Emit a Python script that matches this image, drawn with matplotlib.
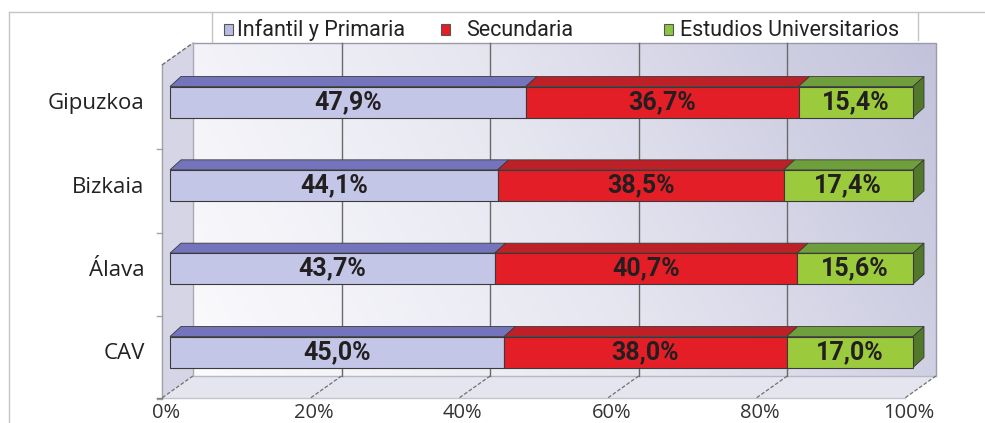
import numpy as np
import matplotlib
matplotlib.use('Agg')
import matplotlib.pyplot as plt
from matplotlib.patches import Polygon, Rectangle
from matplotlib.lines import Line2D
from matplotlib.colors import LinearSegmentedColormap
from matplotlib import font_manager

# datos
categorias = ['CAV', 'Álava', 'Bizkaia', 'Gipuzkoa']
infantil = [45.0, 43.7, 44.1, 47.9]
secundaria = [38.0, 40.7, 38.5, 36.7]
universitarios = [17.0, 15.6, 17.4, 15.4]
series = ['Infantil y Primaria', 'Secundaria', 'Estudios Universitarios']
ticks = [0, 20, 40, 60, 80, 100]

front_cols = ['#c3c6e6', '#e41e26', '#9bcb3c']
top_cols = ['#7474bc', '#be2027', '#6f9e3c']
side_col = '#52782c'
edge = '#3a3a3a'

names = {f.name for f in font_manager.fontManager.ttflist}
narrow = 'Roboto' if 'Roboto' in names else 'DejaVu Sans'
regular = 'Open Sans' if 'Open Sans' in names else 'DejaVu Sans'

W, H = 985, 423
fig = plt.figure(figsize=(W / 100, H / 100), dpi=100)
ax = fig.add_axes([0, 0, 1, 1])
ax.axis('off')

# escala: 0% -> px 170, 100% -> px 913 ; categorias cada 83.3 px
ppx, x0 = 7.43, 170
ppy, y0 = 83.33, 352

# profundidad oblicua del "cubo"
DX, DY = 31 / ppx, 22 / ppy
f0 = 0.26
fx, fy = -f0 * DX, -f0 * DY
bx, by = (1 - f0) * DX, (1 - f0) * DY
y_floor, y_top = -0.483, 3.513

# pared del fondo con degradado
gx, gy = np.meshgrid(np.linspace(0, 1, 256), np.linspace(0, 1, 64))
grad = 0.8 * gx + 0.2 * gy
cmap = LinearSegmentedColormap.from_list('wall', ['#fbfbfd', '#e6e6f1', '#c2c2db'])
ax.imshow(grad, cmap=cmap, extent=[bx, 100 + bx, y_floor + by, y_top + by],
          aspect='auto', origin='lower', zorder=0)

# pared izquierda y suelo
ax.add_patch(Polygon([(fx, y_floor + fy), (bx, y_floor + by), (bx, y_top + by), (fx, y_top + fy)],
                     closed=True, facecolor='#d5d5e6', edgecolor='none', zorder=0.5))
ax.add_patch(Polygon([(fx, y_floor + fy), (100 + fx, y_floor + fy), (100 + bx, y_floor + by), (bx, y_floor + by)],
                     closed=True, facecolor='#e5e5f0', edgecolor='none', zorder=0.5))

# bordes del cubo
ax.plot([bx, 100 + bx, 100 + bx], [y_top + by, y_top + by, y_floor + by], color='#9a9aa8', lw=1, zorder=1)
ax.plot([bx, bx], [y_floor + by, y_top + by], color='#a8a8b4', lw=1, zorder=1)
ax.plot([bx, 100 + bx], [y_floor + by, y_floor + by], color='#b8b8c4', lw=1, zorder=1)
ax.plot([fx, fx], [y_floor + fy, y_top + fy], color='#a0a0a8', lw=1, zorder=1)
ax.plot([fx, bx], [y_top + fy, y_top + by], color='#707070', lw=1, ls=(0, (3, 1.5)), zorder=1)
ax.plot([fx, 100 + fx], [y_floor + fy, y_floor + fy], color='#c4c4cc', lw=1, zorder=1)

# rejilla
for v in ticks[1:-1]:
    ax.plot([v + bx, v + bx], [y_floor + by, y_top + by], color='#6a6a6a', lw=1, zorder=1)
for v in ticks:
    ax.plot([v + bx, v + fx], [y_floor + by, y_floor + fy], color='#707070', lw=0.9,
            ls=(0, (3, 1.5)), zorder=1)
for b in [-0.5, 0.5, 1.5, 2.5]:
    ax.plot([fx - 0.6, fx], [b + fy, b + fy], color='#a0a0a8', lw=1, zorder=1)
ax.plot([fx - 0.6, fx], [y_floor + fy, y_floor + fy], color='#808080', lw=1, zorder=1)

# barras apiladas con caras superior y lateral
ypos = np.arange(len(categorias))
h = 31 / ppy
ddx, ddy = 11 / ppx, 10 / ppy
left = np.zeros(len(categorias))
for vals, fc, tc in zip([infantil, secundaria, universitarios], front_cols, top_cols):
    vals = np.array(vals)
    ax.barh(ypos, vals, left=left, height=h, color=fc, edgecolor=edge, linewidth=0.8, zorder=3)
    for i in range(len(categorias)):
        l, r, t = left[i], left[i] + vals[i], ypos[i] + h / 2
        ax.add_patch(Polygon([(l, t), (r, t), (r + ddx, t + ddy), (l + ddx, t + ddy)], closed=True,
                             facecolor=tc, edgecolor=edge, linewidth=0.6, zorder=2.5))
        ax.text(l + vals[i] / 2, ypos[i], f'{vals[i]:.1f}%'.replace('.', ','), ha='center', va='center',
                fontsize=18, fontweight='bold', family=narrow, color='#231f20', zorder=4)
    left += vals
for i in range(len(categorias)):
    r, b, t = left[i], ypos[i] - h / 2, ypos[i] + h / 2
    ax.add_patch(Polygon([(r, b), (r, t), (r + ddx, t + ddy), (r + ddx, b + ddy)], closed=True,
                         facecolor=side_col, edgecolor=edge, linewidth=0.6, zorder=2.5))

# etiquetas de ejes
for i, c in enumerate(categorias):
    ax.text(-3.4, ypos[i] - 0.02, c, ha='right', va='center', fontsize=16, family=regular, color='#222222')
for v in ticks:
    ax.text(v + fx + 0.5, (y0 - 413) / ppy, f'{v}%', ha='center', va='center', fontsize=14.5,
            family=regular, color='#333333')

ax.set_xlim(-x0 / ppx, (W - x0) / ppx)
ax.set_ylim((y0 - H) / ppy, y0 / ppy)

# marco y leyenda (coordenadas de figura en pixeles)
def fpx(px, py):
    return px / W, 1 - py / H

for (a, b) in [((9, 12), (985, 12)), ((9, 12), (9, 423)), ((212, 12), (212, 42)), ((918, 12), (918, 40))]:
    (xa, ya), (xb, yb) = fpx(*a), fpx(*b)
    fig.add_artist(Line2D([xa, xb], [ya, yb], color='#c4c4c4', lw=1, transform=fig.transFigure))

leg_mk = [228, 445, 668]
leg_tx = [237, 466, 680]
mk_cols = ['#b8bce2', '#e41e26', '#8cc63f']
for name, mx, tx, mc in zip(series, leg_mk, leg_tx, mk_cols):
    x, y = fpx(mx - 4, 35)
    fig.add_artist(Rectangle((x, y), 9 / W, 11 / H, facecolor=mc, edgecolor='#555555', lw=0.8,
                             transform=fig.transFigure))
    x, y = fpx(tx, 30)
    fig.text(x, y, name, ha='left', va='center', fontsize=15.5, family=narrow, color='#222222')

fig.savefig('out.png', dpi=100)
